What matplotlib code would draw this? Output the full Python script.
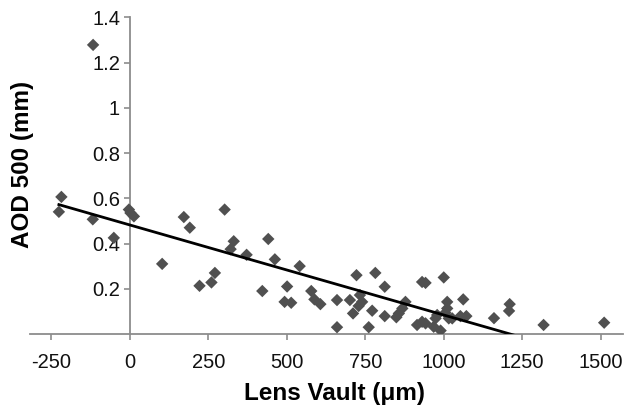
import matplotlib
matplotlib.use("Agg")
import matplotlib.pyplot as plt
import numpy as np

plt.rcParams['font.family'] = ['Liberation Sans', 'DejaVu Sans']

lens_vault = [-117, -218, -226, -118, -51, -3, 2, 13, 103, 172, 191, 302, 331, 321,
              372, 441, 462, 541, 271, 260, 222, 422, 501, 578, 493, 514, 588, 607,
              660, 701, 722, 782, 812, 733, 740, 729, 711, 772, 812, 849, 660, 761,
              931, 942, 1000, 878, 868, 857, 1011, 1011, 1062, 979, 974, 915, 931,
              942, 968, 990, 1016, 1027, 1053, 1072, 1005, 1160, 1210, 1208, 1318, 1511]
aod500 = [1.278, 0.606, 0.54, 0.507, 0.425, 0.55, 0.535, 0.52, 0.31, 0.517, 0.47, 0.55,
          0.41, 0.375, 0.35, 0.42, 0.33, 0.30, 0.27, 0.228, 0.213, 0.19, 0.21, 0.19,
          0.142, 0.138, 0.153, 0.132, 0.15, 0.15, 0.26, 0.27, 0.209, 0.172, 0.142,
          0.124, 0.091, 0.103, 0.079, 0.074, 0.03, 0.03, 0.23, 0.226, 0.25, 0.142,
          0.113, 0.091, 0.142, 0.113, 0.153, 0.084, 0.069, 0.04, 0.054, 0.047, 0.032,
          0.015, 0.069, 0.069, 0.079, 0.079, 0.094, 0.07, 0.132, 0.102, 0.04, 0.05]

trend_intercept = 0.482
trend_slope = -0.000398

x_ticks = [-250, 0, 250, 500, 750, 1000, 1250, 1500]
y_ticks = [0.2, 0.4, 0.6, 0.8, 1.0, 1.2, 1.4]
y_tick_labels = ['0.2', '0.4', '0.6', '0.8', '1', '1.2', '1.4']

fig = plt.figure(figsize=(6.4, 4.15), dpi=100)
W, H = 640, 415
left_px, right_px, top_px, bottom_px = 30, 623, 17.3, 334
ax = fig.add_axes([left_px / W, 1 - bottom_px / H, (right_px - left_px) / W, (bottom_px - top_px) / H])

ax.scatter(lens_vault, aod500, marker='D', s=40, color='#505050', edgecolors='none', zorder=3)

x_line = np.array([min(lens_vault), max(lens_vault)])
ax.plot(x_line, trend_intercept + trend_slope * x_line, color='black', lw=2, zorder=4)

ax.set_xlim(-318, 1571)
ax.set_ylim(0, 1.4)

spine_color = '#8c8c8c'
ax.spines['left'].set_position(('data', 0))
ax.spines['bottom'].set_position(('data', 0))
ax.spines['top'].set_visible(False)
ax.spines['right'].set_visible(False)
for s in ['left', 'bottom']:
    ax.spines[s].set_color(spine_color)
    ax.spines[s].set_linewidth(1.3)

ax.set_xticks(x_ticks)
ax.set_xticklabels([str(v) for v in x_ticks])
ax.set_yticks(y_ticks)
ax.set_yticklabels(y_tick_labels)
ax.tick_params(axis='both', direction='out', length=4, width=1.2, color=spine_color,
               labelsize=14.5, labelcolor='#111111')
ax.tick_params(axis='x', pad=10)
ax.tick_params(axis='y', pad=3)

ax.set_xlabel('Lens Vault (μm)', fontsize=17.5, fontweight='bold')
ax.set_ylabel('AOD 500 (mm)', fontsize=17.5, fontweight='bold')
ax.yaxis.set_label_coords(34 / W, (415 - 164) / H, transform=fig.transFigure)
ax.xaxis.set_label_coords(335 / W, (415 - 382) / H, transform=fig.transFigure)

fig.savefig('out.png', dpi=100)
